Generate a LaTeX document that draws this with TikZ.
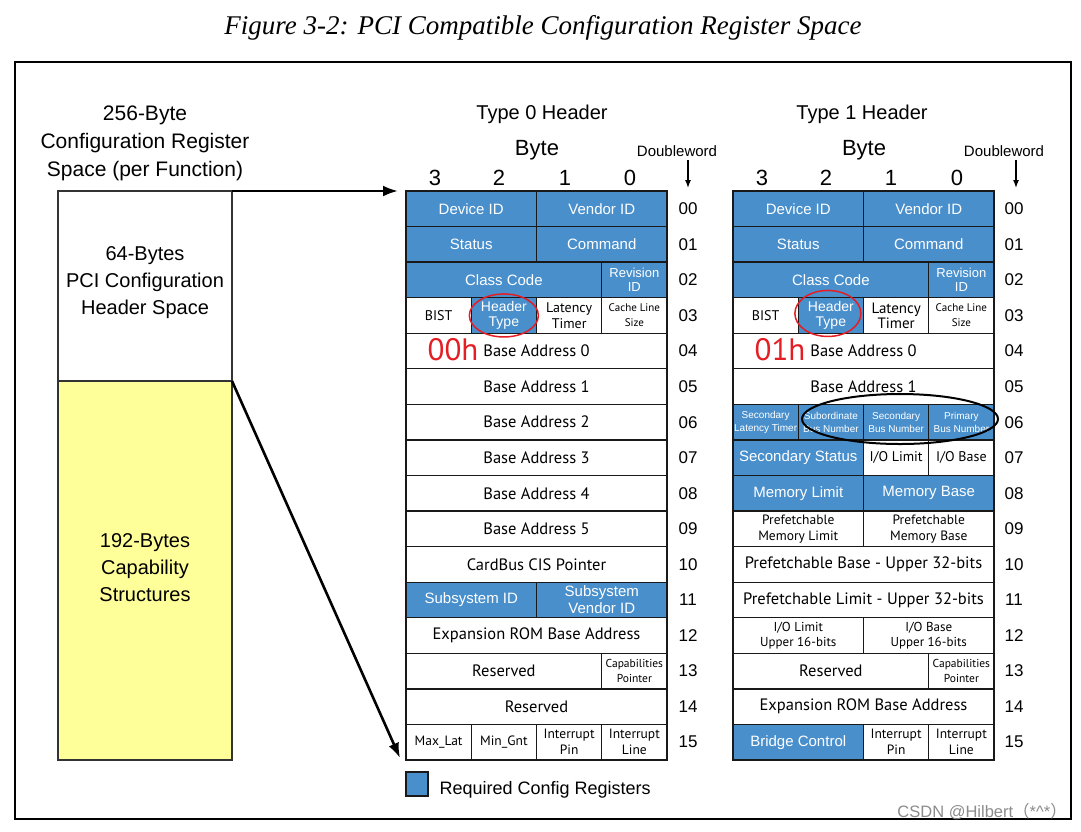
\documentclass[tikz,border=0pt]{standalone}
\usepackage{fontspec}
\setmainfont{Liberation Sans}
\newfontfamily\myr{PT Sans}
\newfontfamily\ttl{Liberation Serif}
\newfontfamily\cjk{Noto Sans CJK SC}
\usetikzlibrary{arrows.meta,shapes.geometric}
\definecolor{regblue}{RGB}{73,143,204}
\definecolor{capyellow}{RGB}{255,255,153}
\definecolor{markred}{RGB}{228,30,36}
\newcommand\fs[2]{\fontsize{#1}{#2}\selectfont}
\newcommand\rc[7]{\node[#6, minimum width={#5*65.25pt}, minimum height=35.56pt] (#1) at ({#2+(#4+#5/2)*65.25},{191+(#3+0.5)*35.56}) {#7};}
\tikzset{
  cellbase/.style={draw=black!90, line width=1.3pt, inner sep=1pt, outer sep=0pt, align=center},
  bcell/.style={cellbase, fill=regblue, text=white, font=\fs{15}{17}},
  wcell/.style={cellbase, fill=white, text=black, font=\myr\fs{16.5}{18}},
  dwlabel/.style={font=\fs{17}{17}},
  bigarrow/.style={line width=2.6pt, -{Latex[length=15pt,width=11pt]}},
  smallarrow/.style={line width=1.3pt, -{Latex[length=8pt,width=6pt]}},
  blockbox/.style={draw=black!80, line width=1.2pt, inner sep=0pt, outer sep=0pt, minimum width=174pt},
}
\begin{document}
\begin{tikzpicture}[x=1pt,y=-1pt]
\useasboundingbox (0,0) rectangle (1081,831);
\fill[white] (0,0) rectangle (1081,831);
% title and frame
\node[font=\ttl\itshape\fs{27}{27}] (title) at (543,28) {Figure 3-2: PCI Compatible Configuration Register Space};
\draw[line width=2.5pt] (15,62) rectangle (1071,819);
% left block
\node[font=\fs{21}{28}, align=center] (lt) at (145,143) {256-Byte\\Configuration Register\\Space (per Function)};
\node[blockbox, fill=white, minimum height=190pt] (lb64) at (145,286) {};
\node[blockbox, fill=capyellow, minimum height=379pt] (lb192) at (145,570.5) {};
\node[font=\fs{20}{27}, align=center] (lb64t) at (145,283) {64-Bytes\\PCI Configuration\\Header Space};
\node[font=\fs{20}{27}, align=center] (lb192t) at (145,568) {192-Bytes\\Capability\\Structures};
% headings
\node[font=\fs{20}{20}] (h0) at (542,114) {Type 0 Header};
\node[font=\fs{22}{22}] (b0) at (537,150) {Byte};
\node[font=\fs{15}{15}] (dw0) at (677,151) {Doubleword};
\node[font=\fs{22}{22}] (n03) at (435,178) {3};
\node[font=\fs{22}{22}] (n02) at (499,178) {2};
\node[font=\fs{22}{22}] (n01) at (565,178) {1};
\node[font=\fs{22}{22}] (n00) at (630,178) {0};
\node[font=\fs{20}{20}] (h1) at (862,114) {Type 1 Header};
\node[font=\fs{22}{22}] (b1) at (864,150) {Byte};
\node[font=\fs{15}{15}] (dw1) at (1004,151) {Doubleword};
\node[font=\fs{22}{22}] (n13) at (762,178) {3};
\node[font=\fs{22}{22}] (n12) at (826,178) {2};
\node[font=\fs{22}{22}] (n11) at (891,178) {1};
\node[font=\fs{22}{22}] (n10) at (957,178) {0};
\coordinate (dws0) at (688,160); \coordinate (dwe0) at (688,188);
\coordinate (dws1) at (1016,160); \coordinate (dwe1) at (1016,188);
\draw[smallarrow] (dws0) -- (dwe0);
\draw[smallarrow] (dws1) -- (dwe1);
% ---------- Type 0 ----------
\rc{a0}{406}{0}{0}{2}{bcell}{Device ID}
\rc{a1}{406}{0}{2}{2}{bcell}{Vendor ID}
\rc{a2}{406}{1}{0}{2}{bcell}{Status}
\rc{a3}{406}{1}{2}{2}{bcell}{Command}
\rc{a4}{406}{2}{0}{3}{bcell}{Class Code}
\rc{a5}{406}{2}{3}{1}{bcell,font=\fs{13}{14}}{Revision\\ID}
\rc{a6}{406}{3}{0}{1}{wcell,font=\myr\fs{14}{15}}{BIST}
\rc{a7}{406}{3}{1}{1}{bcell,font=\fs{14}{15}}{Header\\Type}
\rc{a8}{406}{3}{2}{1}{wcell,font=\myr\fs{14}{16}}{Latency\\Timer}
\rc{a9}{406}{3}{3}{1}{wcell,font=\myr\fs{11}{15}}{Cache Line\\Size}
\rc{a10}{406}{4}{0}{4}{wcell}{Base Address 0}
\rc{a11}{406}{5}{0}{4}{wcell}{Base Address 1}
\rc{a12}{406}{6}{0}{4}{wcell}{Base Address 2}
\rc{a13}{406}{7}{0}{4}{wcell}{Base Address 3}
\rc{a14}{406}{8}{0}{4}{wcell}{Base Address 4}
\rc{a15}{406}{9}{0}{4}{wcell}{Base Address 5}
\rc{a16}{406}{10}{0}{4}{wcell}{CardBus CIS Pointer}
\rc{a17}{406}{11}{0}{2}{bcell}{Subsystem ID}
\rc{a18}{406}{11}{2}{2}{bcell}{Subsystem\\Vendor ID}
\rc{a19}{406}{12}{0}{4}{wcell}{Expansion ROM Base Address}
\rc{a20}{406}{13}{0}{3}{wcell}{Reserved}
\rc{a21}{406}{13}{3}{1}{wcell,font=\myr\fs{11.5}{15}}{Capabilities\\Pointer}
\rc{a22}{406}{14}{0}{4}{wcell}{Reserved}
\rc{a23}{406}{15}{0}{1}{wcell,font=\myr\fs{13.5}{16}}{Max\_Lat}
\rc{a24}{406}{15}{1}{1}{wcell,font=\myr\fs{13.5}{16}}{Min\_Gnt}
\rc{a25}{406}{15}{2}{1}{wcell,font=\myr\fs{13.5}{16}}{Interrupt\\Pin}
\rc{a26}{406}{15}{3}{1}{wcell,font=\myr\fs{13.5}{16}}{Interrupt\\Line}
% ---------- Type 1 ----------
\rc{b0}{733}{0}{0}{2}{bcell}{Device ID}
\rc{b1}{733}{0}{2}{2}{bcell}{Vendor ID}
\rc{b2}{733}{1}{0}{2}{bcell}{Status}
\rc{b3}{733}{1}{2}{2}{bcell}{Command}
\rc{b4}{733}{2}{0}{3}{bcell}{Class Code}
\rc{b5}{733}{2}{3}{1}{bcell,font=\fs{13}{14}}{Revision\\ID}
\rc{b6}{733}{3}{0}{1}{wcell,font=\myr\fs{14}{15}}{BIST}
\rc{b7}{733}{3}{1}{1}{bcell,font=\fs{14}{15}}{Header\\Type}
\rc{b8}{733}{3}{2}{1}{wcell,font=\myr\fs{15}{15}}{Latency\\Timer}
\rc{b9}{733}{3}{3}{1}{wcell,font=\myr\fs{11}{15}}{Cache Line\\Size}
\rc{b10}{733}{4}{0}{4}{wcell}{Base Address 0}
\rc{b11}{733}{5}{0}{4}{wcell}{Base Address 1}
\rc{b12}{733}{6}{0}{1}{bcell,font=\fs{10}{13}}{Secondary\\Latency Timer}
\rc{b13}{733}{6}{1}{1}{bcell,font=\fs{10}{13}}{Subordinate\\Bus Number}
\rc{b14}{733}{6}{2}{1}{bcell,font=\fs{10}{13}}{Secondary\\Bus Number}
\rc{b15}{733}{6}{3}{1}{bcell,font=\fs{10}{13}}{Primary\\Bus Number}
\rc{b16}{733}{7}{0}{2}{bcell}{Secondary Status}
\rc{b17}{733}{7}{2}{1}{wcell,font=\myr\fs{14}{15}}{I/O Limit}
\rc{b18}{733}{7}{3}{1}{wcell,font=\myr\fs{14}{15}}{I/O Base}
\rc{b19}{733}{8}{0}{2}{bcell}{Memory Limit}
\rc{b20}{733}{8}{2}{2}{bcell}{Memory Base}
\rc{b21}{733}{9}{0}{2}{wcell,font=\myr\fs{13.5}{16}}{Prefetchable\\Memory Limit}
\rc{b22}{733}{9}{2}{2}{wcell,font=\myr\fs{13.5}{16}}{Prefetchable\\Memory Base}
\rc{b23}{733}{10}{0}{4}{wcell}{Prefetchable Base - Upper 32-bits}
\rc{b24}{733}{11}{0}{4}{wcell}{Prefetchable Limit - Upper 32-bits}
\rc{b25}{733}{12}{0}{2}{wcell,font=\myr\fs{13}{15}}{I/O Limit\\Upper 16-bits}
\rc{b26}{733}{12}{2}{2}{wcell,font=\myr\fs{13}{15}}{I/O Base\\Upper 16-bits}
\rc{b27}{733}{13}{0}{3}{wcell}{Reserved}
\rc{b28}{733}{13}{3}{1}{wcell,font=\myr\fs{11.5}{15}}{Capabilities\\Pointer}
\rc{b29}{733}{14}{0}{4}{wcell}{Expansion ROM Base Address}
\rc{b30}{733}{15}{0}{2}{bcell}{Bridge Control}
\rc{b31}{733}{15}{2}{1}{wcell,font=\myr\fs{13.5}{16}}{Interrupt\\Pin}
\rc{b32}{733}{15}{3}{1}{wcell,font=\myr\fs{13.5}{16}}{Interrupt\\Line}
% doubleword numbers
\foreach \n [count=\i from 0] in {00,01,02,03,04,05,06,07,08,09,10,11,12,13,14,15} {
  \node[dwlabel] (d0\n) at (688,{191+(\i+0.5)*35.56}) {\n};
  \node[dwlabel] (d1\n) at (1014,{191+(\i+0.5)*35.56}) {\n};
}
% header type values
\node[text=markred, font=\myr\fs{31}{31}] (v0) at (453,350) {00h};
\node[text=markred, font=\myr\fs{31}{31}] (v1) at (780,350) {01h};
% marks
\draw[markred, line width=1.5pt] (a7) ellipse [x radius=34.5pt, y radius=21.5pt];
\draw[markred, line width=1.5pt] ([xshift=-3pt,yshift=2pt]b7.center) ellipse [x radius=33pt, y radius=23pt];
\draw[black, line width=2pt] (900,419) ellipse [x radius=98pt, y radius=25pt];
% arrows from the left block
\draw[bigarrow] (lb64.north east) -- ([xshift=-8pt]a0.north west);
\draw[bigarrow] (lb192.north east) -- ([xshift=-6pt,yshift=2pt]a23.south west);
% legend
\node[cellbase, fill=regblue, minimum width=22pt, minimum height=24pt] (leg) at (417,784) {};
\node[anchor=west, font=\fs{18}{18}] (legt) at (436,790) {Required Config Registers};
% watermark
\node[anchor=east, text=black!45, font=\fs{16.5}{16.5}, inner sep=0pt] (wm) at (1067,812) {CSDN @Hilbert{\cjk（}*\textasciicircum*{\cjk）}};
\end{tikzpicture}
\end{document}
